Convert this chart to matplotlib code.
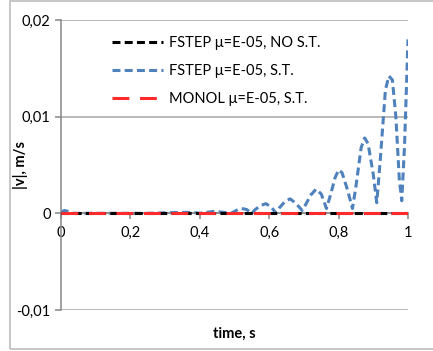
import matplotlib.pyplot as plt
from matplotlib.patches import Rectangle
from matplotlib.ticker import FuncFormatter

# time samples and |v| for the three runs
t_fs_st = [0.00, 0.01, 0.02, 0.03, 0.05, 0.10, 0.15, 0.20, 0.25, 0.30, 0.35, 0.38,
           0.40, 0.42, 0.44, 0.47, 0.49, 0.505, 0.52, 0.535, 0.55, 0.56, 0.575, 0.59,
           0.605, 0.62, 0.63, 0.645, 0.66, 0.675, 0.695, 0.705, 0.72, 0.735, 0.75,
           0.765, 0.775, 0.79, 0.80, 0.81, 0.825, 0.84, 0.85, 0.865, 0.875, 0.885,
           0.90, 0.91, 0.92, 0.935, 0.945, 0.955, 0.965, 0.975, 0.982, 0.99, 1.00]
v_fs_st = [0.0001, 0.0003, 0.0002, 0.0000, 0.0000, 0.0000, 0.0000, 0.0000, 0.0000,
           0.00005, 0.0001, 0.0001, 0.0000, 0.0001, 0.0002, 0.0001, 0.0000, 0.0003,
           0.0005, 0.0004, 0.0000, 0.0004, 0.0008, 0.0010, 0.0007, 0.0000, 0.0006,
           0.0012, 0.0015, 0.0011, 0.0003, 0.0009, 0.0019, 0.0025, 0.0020, 0.0005,
           0.0017, 0.0037, 0.0045, 0.0042, 0.0025, 0.0005, 0.0028, 0.0068, 0.0078,
           0.0072, 0.0040, 0.0011, 0.0055, 0.0128, 0.0142, 0.0138, 0.0100, 0.0035,
           0.0013, 0.0070, 0.0180]
t_grid = [0.0, 0.2, 0.4, 0.6, 0.8, 1.0]
v_fs_nost = [0.0, 0.0, 0.0, 0.0, 0.0, 0.0]
v_monol = [0.0, 0.0, 0.0, 0.0, 0.0, 0.0]

labels = ['FSTEP \u03bc=E-05, NO S.T.', 'FSTEP \u03bc=E-05, S.T.', 'MONOL \u03bc=E-05, S.T.']

plt.rcParams['font.family'] = ['Lato', 'DejaVu Sans']
plt.rcParams['font.size'] = 10.5

fig = plt.figure(figsize=(4.33, 3.51), dpi=100)
fig.patches.append(Rectangle((10 / 433, 2 / 351), 1.0, 348 / 351, transform=fig.transFigure,
                             fill=False, edgecolor='#bdbdbd', linewidth=1.2))
ax = fig.add_axes([61 / 433, 41 / 351, 347 / 433, 290 / 351])

ax.plot(t_grid, v_fs_nost, color='black', lw=2.2, dashes=(2.6, 1.4), label=labels[0], zorder=3)
ax.plot(t_fs_st, v_fs_st, color='#4f81bd', lw=2.2, dashes=(2.6, 1.4), label=labels[1], zorder=2)
ax.plot(t_grid, v_monol, color='#ff2a2a', lw=2.2, dashes=(5.5, 3.5), label=labels[2], zorder=4)

ax.set_xlim(0, 1)
ax.set_ylim(-0.01, 0.02)
ax.set_xticks(t_grid)
ax.set_yticks([-0.01, 0.0, 0.01, 0.02])
comma = FuncFormatter(lambda v, p: ('%g' % round(v, 4)).replace('.', ','))
ax.xaxis.set_major_formatter(comma)
ax.yaxis.set_major_formatter(comma)

ax.grid(axis='y', color='#a6a6a6', lw=1.1)
ax.set_axisbelow(True)
for s in ['top', 'right']:
    ax.spines[s].set_visible(False)
ax.spines['bottom'].set_position(('data', 0))
ax.spines['bottom'].set_color('#868686')
ax.spines['left'].set_color('#868686')
ax.spines['bottom'].set_linewidth(1.1)
ax.spines['left'].set_linewidth(1.1)
ax.tick_params(axis='both', color='#868686', length=4, width=1.1, labelsize=10.5)
ax.tick_params(axis='x', pad=5)

ax.set_ylabel('|v|, m/s', fontweight='bold')
ax.yaxis.set_label_coords(-0.095, 0.5)
ax.text(0.5, -0.082, 'time, s', transform=ax.transAxes, ha='center', va='center',
        fontweight='bold')

ax.legend(loc='upper left', bbox_to_anchor=(0.11, 0.99), frameon=False,
          handlelength=3.5, handletextpad=0.4, labelspacing=0.95, fontsize=10.5)

fig.savefig('out.png')
